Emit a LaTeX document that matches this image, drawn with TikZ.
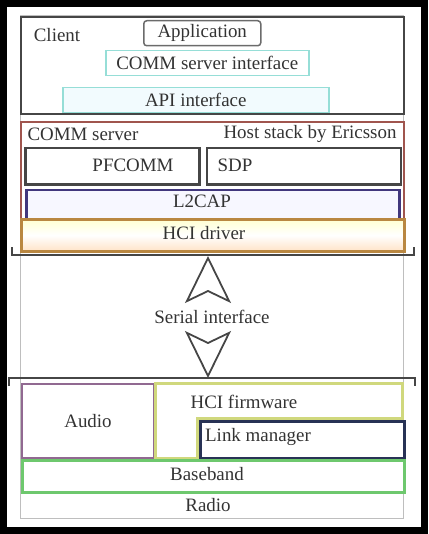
\documentclass[tikz,border=0pt]{standalone}
\usepackage{fontspec}
\setmainfont{Liberation Serif}
\definecolor{FrameGray}{RGB}{190, 190, 190}
\definecolor{BoxGray}{RGB}{70, 70, 70}
\definecolor{IfCyan}{RGB}{150, 222, 215}
\definecolor{ServerRed}{RGB}{160, 85, 78}
\definecolor{CapNavy}{RGB}{65, 55, 125}
\definecolor{DrvOrange}{RGB}{185, 135, 65}
\definecolor{AudioMauve}{RGB}{145, 105, 145}
\definecolor{FwYellow}{RGB}{208, 216, 125}
\definecolor{LinkNavy}{RGB}{40, 50, 85}
\definecolor{BaseGreen}{RGB}{110, 200, 110}
\usetikzlibrary{arrows.meta, positioning}

\begin{document}
\begin{tikzpicture}[x=1bp, y=-1bp, every node/.style={font=\fontsize{19}{21}\selectfont, text=black!80},
    layer/.style={draw, rectangle, anchor=north west, inner sep=0pt},
    serial link/.style={draw=white, line width=1.8bp, -{Stealth[open, color=BoxGray, length=47bp, width=46bp, inset=11bp, line width=1.8bp]}}]
    \useasboundingbox (0,0) rectangle (428,534);
    \draw[line width=7bp] (3.5,3.5) rectangle (424.5,530.5);
    \draw[FrameGray, line width=1bp] (20,16) rectangle (403,518);

    % client side
    \node[layer, draw=BoxGray, line width=2bp, minimum width=383bp, minimum height=97bp] (clientbox) at (20,16) {};
    \node (client) at (57,35) {Client};
    \node[layer, draw=BoxGray!80, line width=1.5bp, rounded corners=3bp, minimum width=117bp, minimum height=25bp] (app) at (143,20) {Application};
    \node[layer, draw=IfCyan, line width=1.5bp, minimum width=203bp, minimum height=25bp] (commif) at (105,50) {COMM server interface};
    \node[layer, draw=IfCyan, fill=cyan!5, line width=1.5bp, minimum width=266bp, minimum height=25bp] (apiif) at (62,87) {API interface};

    % host stack
    \node[layer, draw=ServerRed, line width=2bp, minimum width=383bp, minimum height=130bp] (commsrv) at (20,121) {};
    \node[anchor=west] (commsrvlbl) at (24,134) {COMM server};
    \node[anchor=east] (hoststack) at (400,134) {Host stack by Ericsson};
    \node[layer, draw=BoxGray, line width=2.5bp, minimum width=174bp, minimum height=36bp] (pfcomm) at (24,147) {};
    \node[layer, draw=BoxGray, line width=2.5bp, minimum width=194bp, minimum height=36bp, right=5bp of pfcomm] (sdp) {};
    \node (pfcommlbl) at (133,165) {PFCOMM};
    \node (sdplbl) at (235,165) {SDP};
    \node[layer, draw=CapNavy, fill=blue!3, line width=2.5bp, minimum width=373bp, minimum height=30bp, below right=3bp and 1bp of pfcomm.south west] (l2cap) {};
    \node (l2caplbl) at (202,201) {L2CAP};
    \node[layer, draw=DrvOrange, line width=2.5bp, top color=yellow!18, bottom color=orange!22, middle color=white, minimum width=383bp, minimum height=32bp] (hcidrv) at (20,218) {};
    \node (hcidrvlbl) at (204,233) {HCI driver};

    % serial interface
    \draw[BoxGray, line width=2bp] (12,247) -- (12,255) -- (414,255) -- (414,247);
    \draw[BoxGray, line width=2bp] (9,386) -- (9,378) -- (415,378) -- (415,386);
    \coordinate (uptip) at (208,256);
    \coordinate (downtip) at (208,378);
    \node[minimum height=50bp, inner sep=0pt] (serial) at (212,317) {Serial interface};
    \draw[serial link] (serial.north -| uptip) -- (uptip);
    \draw[serial link] (serial.south -| downtip) -- (downtip);

    % controller
    \node[layer, draw=AudioMauve, line width=2bp, minimum width=132bp, minimum height=74bp] (audio) at (21,383) {Audio};
    \draw[FwYellow, line width=3bp] (155,383) -- (402,383) -- (402,418) -- (197,418) -- (197,458) -- (155,458) -- cycle;
    \node (hcifw) at (244,402) {HCI firmware};
    \node[layer, draw=LinkNavy, line width=2.5bp, minimum width=204bp, minimum height=37bp] (linkmgr) at (199,420) {};
    \node (linkmgrlbl) at (258,437) {Link manager};
    \node[layer, draw=BaseGreen, line width=2.5bp, minimum width=382bp, minimum height=32bp] (baseband) at (21,459) {};
    \node (basebandlbl) at (207,474) {Baseband};
    \node (radio) at (208,505) {Radio};
\end{tikzpicture}
\end{document}
